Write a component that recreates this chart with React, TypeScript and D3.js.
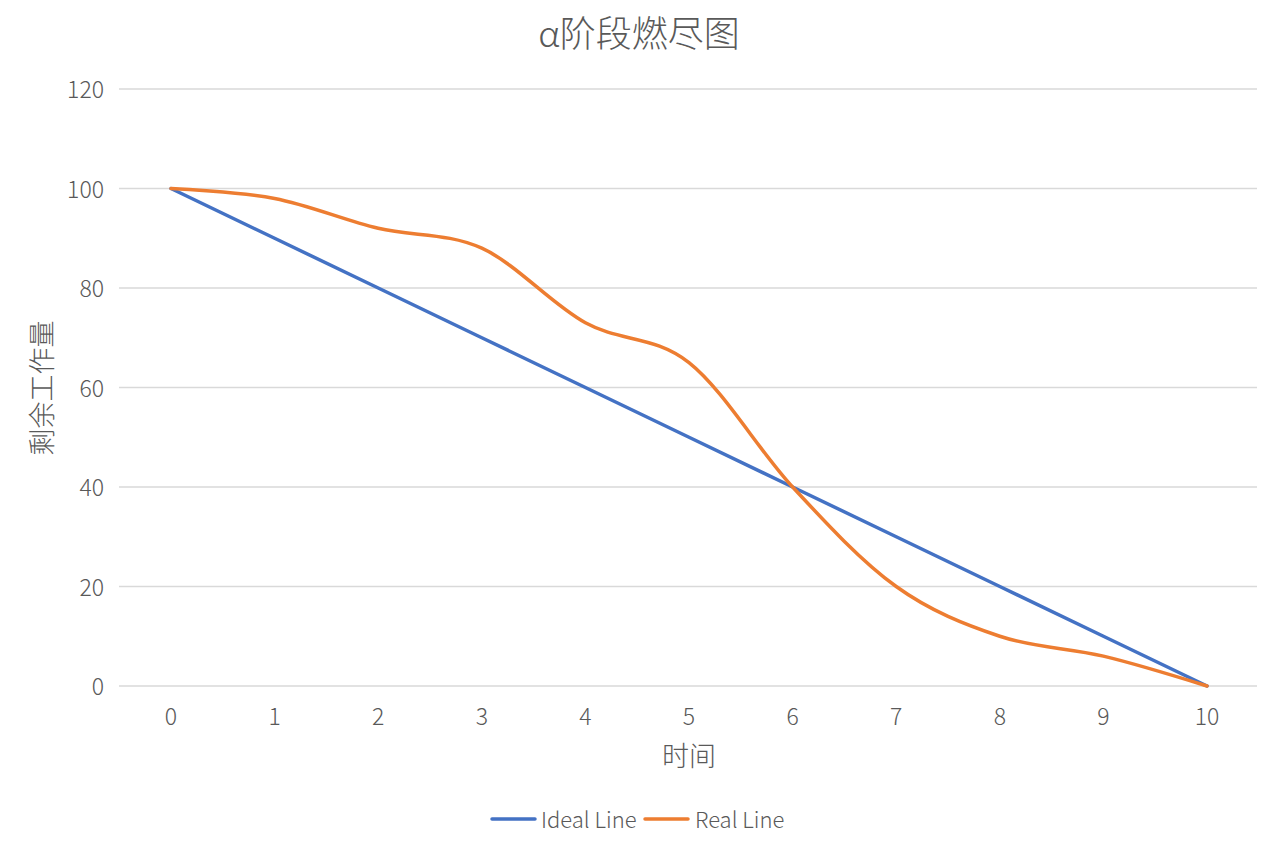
import React from "react";
import * as d3 from "d3";

const times = [0, 1, 2, 3, 4, 5, 6, 7, 8, 9, 10];
const idealValues = [100, 90, 80, 70, 60, 50, 40, 30, 20, 10, 0];
const realValues = [100, 98, 92, 88, 73, 65, 40, 20, 10, 6, 0];
const yTicks = [0, 20, 40, 60, 80, 100, 120];
const seriesNames = ["Ideal Line", "Real Line"];
const seriesColors = ["#4472C4", "#ED7D31"];

const W = 1280;
const H = 854;
const FONT = "'Noto Sans CJK SC', 'Noto Sans', sans-serif";
const TXT = "#595959";

export default function App() {
  const plotLeft = 119;
  const plotRight = 1257;
  const x = d3.scalePoint<number>().domain(times).range([171, 1207]);
  const y = d3.scaleLinear().domain([0, 120]).range([686, 89]);

  const idealLine = d3
    .line<number>()
    .x((_, i) => x(times[i]) as number)
    .y((d) => y(d));
  const realLine = d3
    .line<number>()
    .x((_, i) => x(times[i]) as number)
    .y((d) => y(d))
    .curve(d3.curveCatmullRom.alpha(0));

  const legendItems = [
    { name: seriesNames[0], color: seriesColors[0], lx: 492, tx: 541 },
    { name: seriesNames[1], color: seriesColors[1], lx: 645, tx: 695 },
  ];

  return (
    <svg
      width={W}
      height={H}
      style={{ position: "absolute", left: 0, top: 0, background: "#fff" }}
      fontFamily={FONT}
      fontWeight={300}
    >
      <rect width={W} height={H} fill="#fff" />
      <text x={639} y={37} textAnchor="middle" dominantBaseline="middle" fontSize={36} fill={TXT}>
        α阶段燃尽图
      </text>
      {yTicks.map((t) => (
        <g key={t}>
          <line x1={plotLeft} x2={plotRight} y1={y(t)} y2={y(t)} stroke="#d9d9d9" strokeWidth={1.3} />
          <text x={104} y={y(t) - 1} textAnchor="end" dominantBaseline="central" fontSize={23} fill={TXT}>
            {t}
          </text>
        </g>
      ))}
      {times.map((t) => (
        <text key={t} x={x(t)} y={715} textAnchor="middle" dominantBaseline="central" fontSize={23} fill={TXT}>
          {t}
        </text>
      ))}
      <text x={689} y={754} textAnchor="middle" dominantBaseline="central" fontSize={27} fill={TXT}>
        时间
      </text>
      <text
        transform={`translate(40,388) rotate(-90)`}
        textAnchor="middle"
        dominantBaseline="central"
        fontSize={27}
        fill={TXT}
      >
        剩余工作量
      </text>
      <path d={idealLine(idealValues) || ""} fill="none" stroke={seriesColors[0]} strokeWidth={3.5} strokeLinecap="round" />
      <path d={realLine(realValues) || ""} fill="none" stroke={seriesColors[1]} strokeWidth={3.5} strokeLinecap="round" />
      {legendItems.map((it) => (
        <g key={it.name}>
          <line x1={it.lx} x2={it.lx + 43} y1={819} y2={819} stroke={it.color} strokeWidth={3.5} strokeLinecap="round" />
          <text x={it.tx} y={818} dominantBaseline="central" fontSize={22} fill={TXT}>
            {it.name}
          </text>
        </g>
      ))}
    </svg>
  );
}
